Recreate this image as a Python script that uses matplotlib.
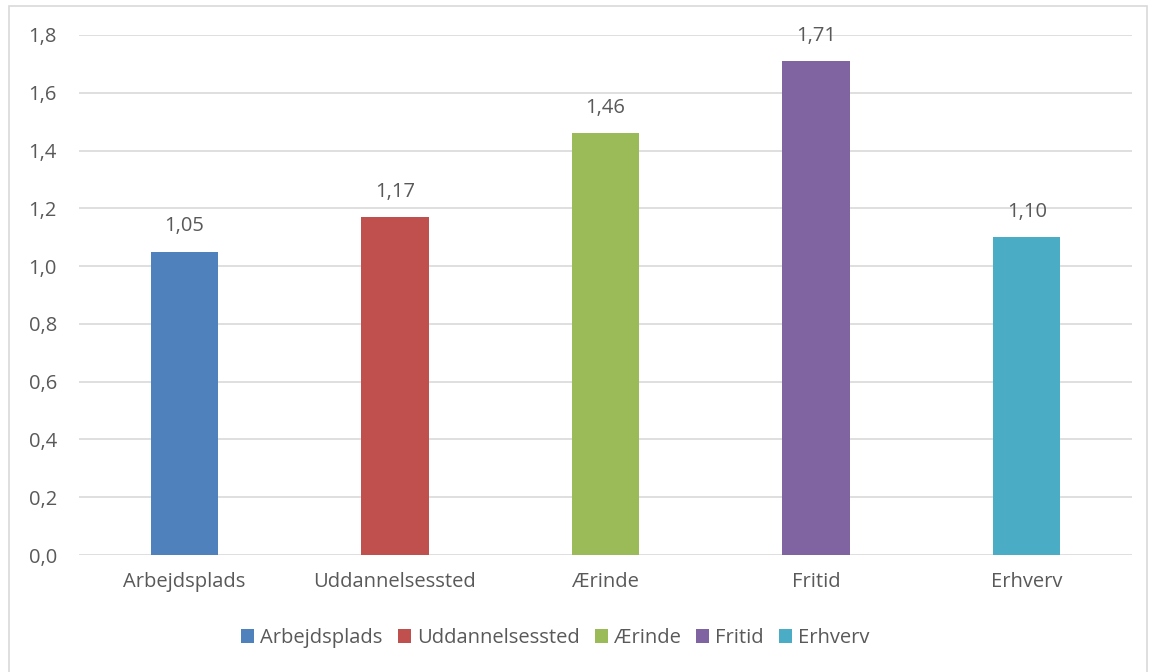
import matplotlib.pyplot as plt
from matplotlib.ticker import FuncFormatter
from matplotlib.patches import Rectangle

categories = ['Arbejdsplads', 'Uddannelsessted', 'Ærinde', 'Fritid', 'Erhverv']
values = [1.05, 1.17, 1.46, 1.71, 1.10]
colors = ['#4F81BD', '#C0504D', '#9BBB59', '#8064A2', '#4BACC6']

plt.rcParams['font.family'] = ['Open Sans', 'DejaVu Sans']
text_col = '#595959'
fs = 14.5
W, H = 1153, 672

fig = plt.figure(figsize=(W / 100, H / 100), dpi=100)
# light frame round the chart area
fig.patches.append(Rectangle((9 / W, -0.01), 1138 / W, 1 - 6 / H + 0.01,
                             transform=fig.transFigure, fill=False,
                             edgecolor='#D9D9D9', lw=1.2))

ax = fig.add_axes([79 / W, (H - 555) / H, 1053 / W, 520 / H])
x = range(len(categories))
bars = ax.bar(x, values, width=0.32, color=colors, label=categories, zorder=3)

for xi, v in zip(x, values):
    ax.annotate(f'{v:.2f}'.replace('.', ','), (xi, v), xytext=(0, 11),
                textcoords='offset points', ha='center', va='bottom',
                fontsize=fs, color=text_col)

ax.set_xlim(-0.5, len(categories) - 0.5)
ax.set_ylim(0, 1.8)
ax.set_yticks([i * 0.2 for i in range(10)])
ax.yaxis.set_major_formatter(FuncFormatter(lambda v, p: f'{v:.1f}'.replace('.', ',')))
ax.set_xticks(list(x))
ax.set_xticklabels(categories)
ax.grid(axis='y', color='#D9D9D9', lw=1.2, zorder=0)
for s in ax.spines.values():
    s.set_visible(False)
ax.tick_params(axis='both', length=0, labelsize=fs, labelcolor=text_col)
ax.tick_params(axis='y', pad=16)
ax.tick_params(axis='x', pad=12)

fig.legend(bars, categories, loc='center', bbox_to_anchor=(555 / W, 1 - 638 / H),
           ncol=5, frameon=False, fontsize=fs, labelcolor=text_col,
           handlelength=0.65, handleheight=0.65, handletextpad=0.3,
           columnspacing=0.75)

fig.savefig('out.png', dpi=100)
